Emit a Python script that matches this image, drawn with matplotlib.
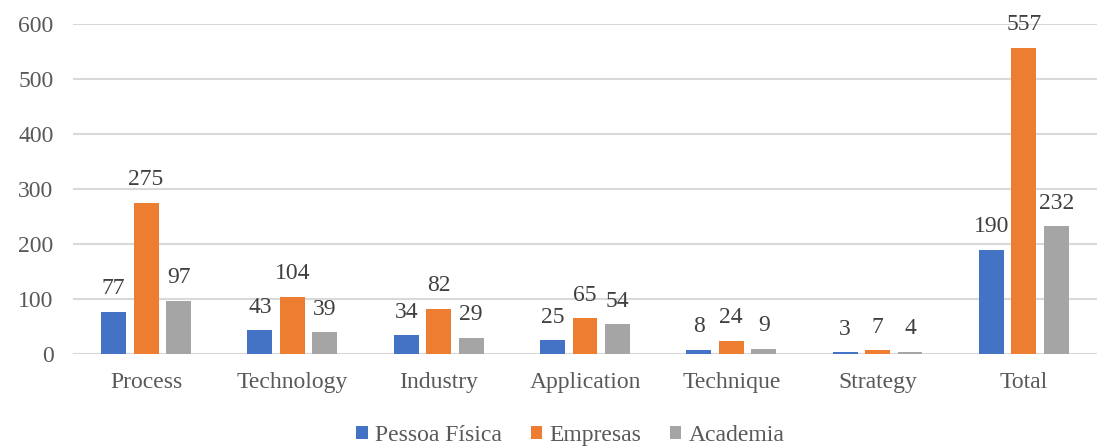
import numpy as np
import matplotlib
matplotlib.use('Agg')
import matplotlib.pyplot as plt

plt.rcParams['font.family'] = ['Liberation Serif', 'DejaVu Serif']

categories = ['Process', 'Technology', 'Industry', 'Application', 'Technique', 'Strategy', 'Total']
pessoa_fisica = [77, 43, 34, 25, 8, 3, 190]
empresas = [275, 104, 82, 65, 24, 7, 557]
academia = [97, 39, 29, 54, 9, 4, 232]

series = [('Pessoa Física', pessoa_fisica, '#4472C4'),
          ('Empresas', empresas, '#ED7D31'),
          ('Academia', academia, '#A5A5A5')]

fig = plt.figure(figsize=(10.97, 4.48), dpi=100)
ax = fig.add_axes([0.0665, 0.21, 0.9335, 0.736])

x = np.arange(len(categories))
width = 0.17
offset = 0.222

for i, (name, vals, color) in enumerate(series):
    pos = x + (i - 1) * offset
    ax.bar(pos, vals, width, color=color, label=name, zorder=3)
    for px, v in zip(pos, vals):
        ax.annotate(str(v), (px, v), xytext=(0, 9), textcoords='offset points',
                    ha='center', va='bottom', fontsize=17, color='#404040')

ax.set_ylim(0, 600)
ax.set_xlim(-0.5, len(categories) - 0.5)
ax.set_yticks(range(0, 601, 100))
ax.set_xticks(x)
ax.set_xticklabels(categories)
ax.grid(axis='y', color='#D9D9D9', linewidth=1.5, zorder=0)
ax.set_axisbelow(True)
for s in ax.spines.values():
    s.set_visible(False)
ax.tick_params(axis='both', length=0, labelsize=17, labelcolor='#595959')
ax.tick_params(axis='x', pad=13)
ax.tick_params(axis='y', pad=14)

# legend sits at the very bottom edge like the original
fig.legend(loc='center', bbox_to_anchor=(0.52, 0.028), ncol=3, frameon=False,
           fontsize=17, labelcolor='#595959', handlelength=0.5, handleheight=0.5,
           handletextpad=0.3, columnspacing=1.2)

fig.savefig('out.png', dpi=100)
